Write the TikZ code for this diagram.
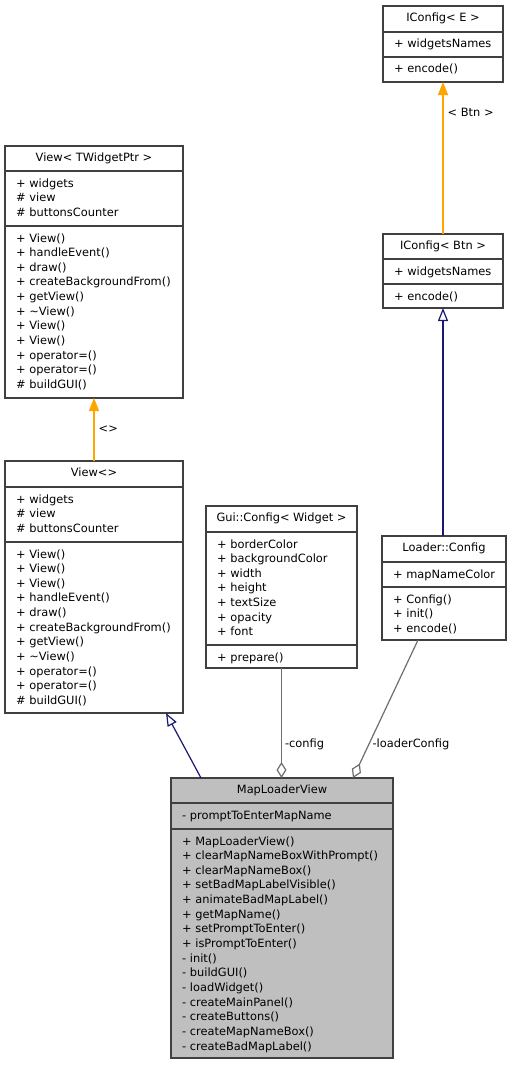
\documentclass[tikz,border=0pt]{standalone}
\usepackage{fontspec}
\setmainfont{DejaVu Sans}
\usetikzlibrary{arrows.meta}

\definecolor{edgeorange}{HTML}{FFA500}
\definecolor{edgenavy}{HTML}{191970}
\definecolor{edgegrey}{HTML}{6E6E6E}
\definecolor{boxline}{HTML}{404040}
\definecolor{focusfill}{HTML}{BFBFBF}

\tikzset{
  umlfont/.style={font=\fontsize{11.4}{13}\selectfont},
  clsbox/.style={draw=boxline, line width=1.3pt, fill=white, inner sep=0pt,
                 outer sep=0pt, anchor=north west},
  clsrule/.style={draw=boxline, line width=1.3pt},
  clstitle/.style={umlfont, anchor=base, inner sep=0pt},
  clsmember/.style={umlfont, anchor=base west, inner sep=0pt},
  edgelabel/.style={umlfont, anchor=west, inner sep=0pt},
  realize/.style={draw=edgeorange, line width=1.4pt,
                  -{Triangle[length=13pt, width=10pt, fill=edgeorange]}},
  inherit/.style={draw=edgenavy, line width=1.2pt,
                  -{Triangle[open, length=13pt, width=10pt]}},
  aggregate/.style={draw=edgegrey, line width=1.2pt,
                    -{Diamond[open, length=16pt, width=10pt]}},
}

% [extra style]{name}{left}{top}{right}{bottom}{rule 1}{rule 2}{title}
\newcommand\umlclass[9][]{%
  \node[clsbox, #1, minimum width={(#5-#3)*1pt}, minimum height={(#6-#4)*1pt}]
       (#2) at (#3,#4) {};
  \draw[clsrule] (#3,#7) -- (#5,#7);
  \draw[clsrule] (#3,#8) -- (#5,#8);
  \node[clstitle] at ({(#3+#5)/2},#4+15.5) {#9};
}
% {left}{first baseline}{lines}
\newcommand\umlmembers[3]{%
  \foreach \t [count=\i from 0] in {#3}
    \node[clsmember] at (#1+11,#2+\i*14.65) {\t};
}

\begin{document}
\begin{tikzpicture}[x=1pt, y=-1pt]
  \fill[white] (0,0) rectangle (510,1065);
  \useasboundingbox (0,0) rectangle (510,1065);

  % View< TWidgetPtr >
  \umlclass{viewT}{5}{146}{183}{398}{171}{226}{View< TWidgetPtr >}
  \umlmembers{5}{187}{+ widgets, \# view, \# buttonsCounter}
  \umlmembers{5}{242}{+ View(), + handleEvent(), + draw(), + createBackgroundFrom(),
    + getView(), + \textasciitilde{}View(), + View(), + View(), + operator=(),
    + operator=(), \# buildGUI()}

  % View<>
  \umlclass{viewE}{5}{461}{183}{713}{487}{542}{View<>}
  \umlmembers{5}{503}{+ widgets, \# view, \# buttonsCounter}
  \umlmembers{5}{558}{+ View(), + View(), + View(), + handleEvent(), + draw(),
    + createBackgroundFrom(), + getView(), + \textasciitilde{}View(),
    + operator=(), + operator=(), \# buildGUI()}

  % Gui::Config< Widget >
  \umlclass{gcfg}{206}{506}{357}{668}{532}{645}{Gui::Config< Widget >}
  \umlmembers{206}{548}{+ borderColor, + backgroundColor, + width, + height,
    + textSize, + opacity, + font}
  \umlmembers{206}{661}{+ prepare()}

  % IConfig< E >
  \umlclass{icE}{383}{6}{503}{82}{32}{57}{IConfig< E >}
  \umlmembers{383}{48}{+ widgetsNames}
  \umlmembers{383}{73}{+ encode()}

  % IConfig< Btn >
  \umlclass{icB}{383}{234}{503}{308}{259}{284}{IConfig< Btn >}
  \umlmembers{383}{275}{+ widgetsNames}
  \umlmembers{383}{300}{+ encode()}

  % Loader::Config
  \umlclass{lcfg}{382}{536}{506}{640}{562}{587}{Loader::Config}
  \umlmembers{382}{578}{+ mapNameColor}
  \umlmembers{382}{603}{+ Config(), + init(), + encode()}

  % MapLoaderView
  \umlclass[fill=focusfill]{mlv}{171}{778}{393}{1058}{803}{829}{MapLoaderView}
  \umlmembers{171}{819}{- promptToEnterMapName}
  \umlmembers{171}{845}{+ MapLoaderView(), + clearMapNameBoxWithPrompt(),
    + clearMapNameBox(), + setBadMapLabelVisible(), + animateBadMapLabel(),
    + getMapName(), + setPromptToEnter(), + isPromptToEnter(), - init(),
    - buildGUI(), - loadWidget(), - createMainPanel(), - createButtons(),
    - createMapNameBox(), - createBadMapLabel()}

  % template instantiations
  \draw[realize] (viewE.north) -- (viewT.south)
    node[edgelabel, pos=0.5, xshift=4pt] {<>};
  \draw[realize] (icB.north) -- (icE.south)
    node[edgelabel, pos=0.8, xshift=4pt] {< Btn >};

  % inheritance
  \draw[inherit] (lcfg.north -| icB.south) -- (icB.south);
  \draw[inherit] ([xshift=30pt]mlv.north west) -- ([xshift=-17pt]viewE.south east);

  % aggregation
  \draw[aggregate] (gcfg.south) -- (gcfg.south |- mlv.north)
    node[edgelabel, pos=0.69, xshift=3pt] {-config};
  \draw[aggregate] ([xshift=36pt]lcfg.south west) -- ([xshift=-40pt]mlv.north east)
    node[edgelabel, pos=0.754, xshift=3pt] {-loaderConfig};
\end{tikzpicture}
\end{document}
